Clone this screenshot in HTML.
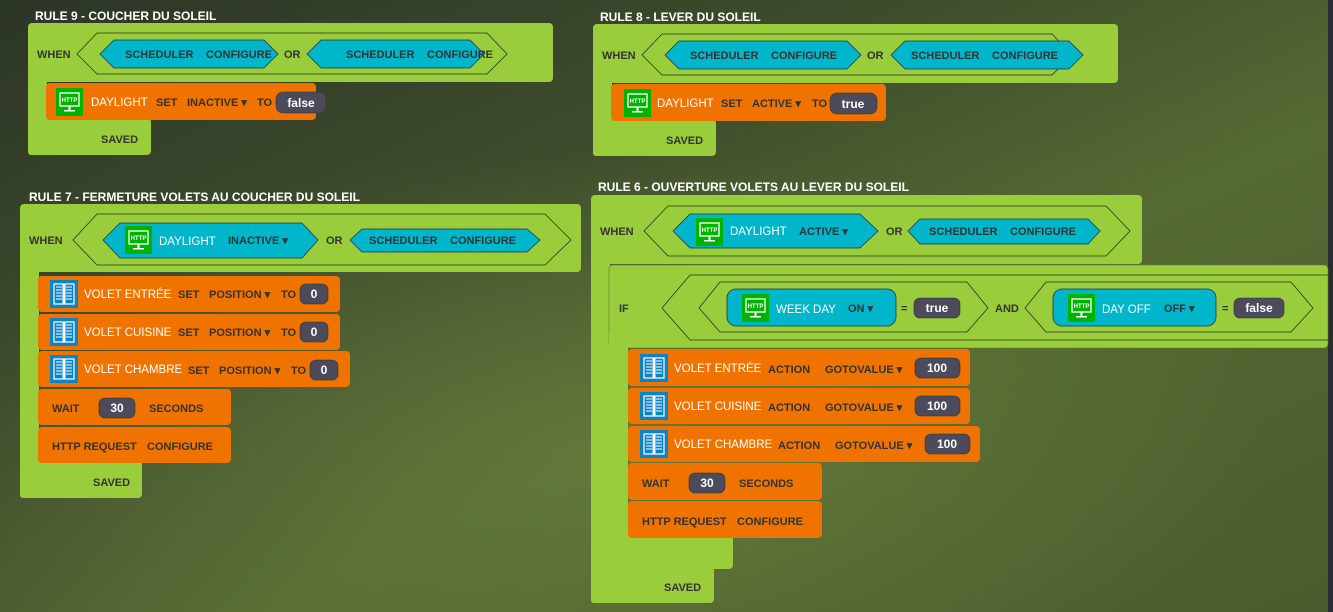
<!DOCTYPE html>
<html><head><meta charset="utf-8"><style>
html,body{margin:0;padding:0;width:1333px;height:612px;overflow:hidden}
body{background:#3d4a2c}
svg{display:block}
text{font-family:"Liberation Sans",sans-serif;font-size:11px;font-weight:bold;fill:#333}
.t{fill:#fff;font-size:12px}
.w{fill:#fff;font-weight:normal;font-size:11.5px}
.p{fill:#fff;font-size:12px;text-anchor:middle}
.g{fill:#9acd3c}
.o{fill:#f07300}
.c{fill:#00b6ca;stroke:#234;stroke-width:.8}
.h{fill:none;stroke:#2a3320;stroke-width:.8}
.pl{fill:#4b4b5c;stroke:#333;stroke-width:.6}
</style></head><body>
<svg width="1333" height="612" viewBox="0 0 1333 612" xmlns="http://www.w3.org/2000/svg">
<defs>
<linearGradient id="bg" x1="0" y1="0" x2="1" y2="1">
<stop offset="0" stop-color="#2c3526"/><stop offset="0.35" stop-color="#3f4d2c"/><stop offset="0.6" stop-color="#566a33"/><stop offset="1" stop-color="#4a5a2c"/>
</linearGradient>
<radialGradient id="rg" cx="0.45" cy="0.75" r="0.5"><stop offset="0" stop-color="#6b8040" stop-opacity=".6"/><stop offset="1" stop-color="#6b8040" stop-opacity="0"/></radialGradient>
<g id="http"><rect width="27" height="28" fill="#00b300"/><rect x="4" y="5" width="19" height="13" fill="none" stroke="#fff" stroke-width="1.3"/><rect x="12.5" y="18" width="2" height="4" fill="#fff"/><rect x="8" y="22" width="11" height="1.5" fill="#fff"/><text x="13.5" y="14" style="font-size:6px;fill:#fff;text-anchor:middle">HTTP</text></g>
<g id="shut"><rect width="28" height="28" fill="#0b84c6"/><rect x="4" y="4" width="20" height="20" fill="none" stroke="#fff" stroke-width="1.2"/><path d="M6 7h6M6 10h6M6 13h6M6 16h6M6 19h6M16 7h6M16 10h6M16 13h6M16 16h6M16 19h6" stroke="#fff" stroke-width="1"/><rect x="12.5" y="4" width="3" height="20" fill="#fff"/></g>
</defs>
<rect width="1333" height="612" fill="url(#bg)"/>
<rect width="1333" height="612" fill="url(#rg)"/>
<rect x="1328" y="0" width="5" height="612" fill="#2a2c33"/>

<!-- RULE 9 -->
<text class="t" x="35" y="20">RULE 9 - COUCHER DU SOLEIL</text>
<rect class="g" x="28" y="23" width="525" height="59" rx="4"/>
<rect class="g" x="28" y="60" width="19" height="95" rx="3"/>
<rect class="g" x="28" y="118" width="123" height="37" rx="4"/>
<text x="37" y="58">WHEN</text>
<polygon class="h" points="77,54 97,33 487,33 507,54 487,74 97,74"/>
<polygon class="c" points="100,54 114,40 264,40 278,54 264,68 114,68"/>
<text x="125" y="58">SCHEDULER</text><text x="206" y="58">CONFIGURE</text>
<text x="284" y="58">OR</text>
<polygon class="c" points="307,54 321,40 470,40 484,54 470,68 321,68"/>
<text x="346" y="58">SCHEDULER</text><text x="427" y="58">CONFIGURE</text>
<rect class="o" x="46" y="83" width="270" height="37" rx="4"/>
<use href="#http" x="56" y="88"/>
<text class="w" x="91" y="106">DAYLIGHT</text><text x="156" y="106">SET</text><text x="187" y="106">INACTIVE ▾</text><text x="257" y="106">TO</text>
<rect class="pl" x="276" y="92" width="50" height="21" rx="7"/><text class="p" x="301" y="107">false</text>
<text x="101" y="143">SAVED</text>

<!-- RULE 8 -->
<text class="t" x="600" y="21">RULE 8 - LEVER DU SOLEIL</text>
<rect class="g" x="593" y="24" width="525" height="59" rx="4"/>
<rect class="g" x="593" y="60" width="19" height="96" rx="3"/>
<rect class="g" x="593" y="119" width="123" height="37" rx="4"/>
<text x="602" y="59">WHEN</text>
<polygon class="h" points="642,55 662,34 1052,34 1072,55 1052,75 662,75"/>
<polygon class="c" points="665,55 679,41 847,41 861,55 847,69 679,69"/>
<text x="690" y="59">SCHEDULER</text><text x="771" y="59">CONFIGURE</text>
<text x="867" y="59">OR</text>
<polygon class="c" points="891,55 905,41 1069,41 1083,55 1069,69 905,69"/>
<text x="911" y="59">SCHEDULER</text><text x="992" y="59">CONFIGURE</text>
<rect class="o" x="611" y="84" width="275" height="37" rx="4"/>
<use href="#http" x="624" y="89"/>
<text class="w" x="657" y="107">DAYLIGHT</text><text x="721" y="107">SET</text><text x="752" y="107">ACTIVE ▾</text><text x="812" y="107">TO</text>
<rect class="pl" x="830" y="93" width="47" height="21" rx="7"/><text class="p" x="853" y="108">true</text>
<text x="666" y="144">SAVED</text>

<!-- RULE 7 -->
<text class="t" x="29" y="201">RULE 7 - FERMETURE VOLETS AU COUCHER DU SOLEIL</text>
<rect class="g" x="20" y="204" width="561" height="68" rx="4"/>
<rect class="g" x="20" y="250" width="19" height="248" rx="3"/>
<rect class="g" x="20" y="460" width="122" height="38" rx="4"/>
<text x="29" y="244">WHEN</text>
<polygon class="h" points="73,240 97,214 545,214 571,240 545,265 97,265"/>
<polygon class="c" points="103,240 120,223 302,223 318,240 302,258 120,258"/>
<use href="#http" x="125" y="226"/>
<text class="w" x="159" y="245">DAYLIGHT</text><text x="228" y="244">INACTIVE ▾</text>
<text x="326" y="244">OR</text>
<polygon class="c" points="350,240 362,229 527,229 540,240 527,252 362,252"/>
<text x="369" y="244">SCHEDULER</text><text x="450" y="244">CONFIGURE</text>

<rect class="o" x="38" y="276" width="302" height="36" rx="4"/>
<use href="#shut" x="50" y="280"/>
<text class="w" x="84" y="298">VOLET ENTRÉE</text><text x="178" y="298">SET</text><text x="209" y="298">POSITION ▾</text><text x="281" y="298">TO</text>
<rect class="pl" x="300" y="284" width="28" height="20" rx="6"/><text class="p" x="314" y="298">0</text>

<rect class="o" x="38" y="314" width="302" height="36" rx="4"/>
<use href="#shut" x="50" y="318"/>
<text class="w" x="84" y="336">VOLET CUISINE</text><text x="178" y="336">SET</text><text x="209" y="336">POSITION ▾</text><text x="281" y="336">TO</text>
<rect class="pl" x="300" y="322" width="28" height="20" rx="6"/><text class="p" x="314" y="336">0</text>

<rect class="o" x="38" y="351" width="312" height="36" rx="4"/>
<use href="#shut" x="50" y="355"/>
<text class="w" x="84" y="373">VOLET CHAMBRE</text><text x="188" y="374">SET</text><text x="219" y="374">POSITION ▾</text><text x="291" y="374">TO</text>
<rect class="pl" x="310" y="360" width="28" height="20" rx="6"/><text class="p" x="324" y="374">0</text>

<rect class="o" x="38" y="389" width="193" height="36" rx="4"/>
<text x="52" y="412">WAIT</text>
<rect class="pl" x="99" y="398" width="36" height="20" rx="6"/><text class="p" x="117" y="412">30</text>
<text x="149" y="412">SECONDS</text>
<rect class="o" x="38" y="427" width="193" height="36" rx="4"/>
<text x="52" y="450">HTTP REQUEST</text><text x="147" y="450">CONFIGURE</text>
<text x="93" y="486">SAVED</text>

<!-- RULE 6 -->
<text class="t" x="598" y="191">RULE 6 - OUVERTURE VOLETS AU LEVER DU SOLEIL</text>
<rect class="g" x="591" y="195" width="551" height="69" rx="4"/>
<rect class="g" x="591" y="240" width="19" height="363" rx="3"/>
<rect class="g" x="591" y="566" width="123" height="37" rx="4"/>
<text x="600" y="235">WHEN</text>
<polygon class="h" points="644,231 668,206 1106,206 1130,231 1106,256 668,256"/>
<polygon class="c" points="673,231 690,214 860,214 878,231 860,248 690,248"/>
<use href="#http" x="696" y="218"/>
<text class="w" x="730" y="235">DAYLIGHT</text><text x="799" y="235">ACTIVE ▾</text>
<text x="886" y="235">OR</text>
<polygon class="c" points="908,231 920,219 1088,219 1100,231 1088,244 920,244"/>
<text x="929" y="235">SCHEDULER</text><text x="1010" y="235">CONFIGURE</text>

<rect class="g" x="609" y="265" width="719" height="83" rx="4" stroke="#5a7a20" stroke-width=".6"/>
<rect class="g" x="609" y="330" width="19" height="239" rx="3"/>
<rect class="g" x="609" y="535" width="124" height="34" rx="4"/>
<text x="619" y="312">IF</text>
<polygon class="h" points="662,308 690,275 1330,275 1340,308 1330,340 690,340"/>
<polygon class="h" points="699,308 720,282 967,282 988,308 967,332 720,332"/>
<rect x="727" y="289" width="169" height="37" rx="9" fill="#00b6ca" stroke="#234" stroke-width=".8"/>
<use href="#http" x="742" y="294"/>
<text class="w" x="776" y="313">WEEK DAY</text><text x="848" y="312">ON ▾</text>
<text x="901" y="312">=</text>
<rect class="pl" x="914" y="298" width="46" height="20" rx="6"/><text class="p" x="937" y="312">true</text>
<text x="995" y="312">AND</text>
<polygon class="h" points="1025,308 1046,282 1291,282 1313,308 1291,332 1046,332"/>
<rect x="1053" y="289" width="163" height="37" rx="9" fill="#00b6ca" stroke="#234" stroke-width=".8"/>
<use href="#http" x="1068" y="294"/>
<text class="w" x="1102" y="313">DAY OFF</text><text x="1164" y="312">OFF ▾</text>
<text x="1222" y="312">=</text>
<rect class="pl" x="1234" y="298" width="50" height="20" rx="6"/><text class="p" x="1259" y="312">false</text>

<rect class="o" x="628" y="349" width="342" height="37" rx="4"/>
<use href="#shut" x="640" y="354"/>
<text class="w" x="674" y="372">VOLET ENTRÉE</text><text x="768" y="373">ACTION</text><text x="825" y="373">GOTOVALUE ▾</text>
<rect class="pl" x="915" y="358" width="45" height="20" rx="6"/><text class="p" x="937" y="372">100</text>

<rect class="o" x="628" y="388" width="342" height="36" rx="4"/>
<use href="#shut" x="640" y="392"/>
<text class="w" x="674" y="410">VOLET CUISINE</text><text x="768" y="411">ACTION</text><text x="825" y="411">GOTOVALUE ▾</text>
<rect class="pl" x="915" y="396" width="45" height="20" rx="6"/><text class="p" x="937" y="410">100</text>

<rect class="o" x="628" y="426" width="352" height="36" rx="4"/>
<use href="#shut" x="640" y="430"/>
<text class="w" x="674" y="448">VOLET CHAMBRE</text><text x="778" y="449">ACTION</text><text x="835" y="449">GOTOVALUE ▾</text>
<rect class="pl" x="925" y="434" width="45" height="20" rx="6"/><text class="p" x="947" y="448">100</text>

<rect class="o" x="628" y="463" width="194" height="37" rx="4"/>
<text x="642" y="487">WAIT</text>
<rect class="pl" x="689" y="473" width="36" height="20" rx="6"/><text class="p" x="707" y="487">30</text>
<text x="739" y="487">SECONDS</text>
<rect class="o" x="628" y="501" width="194" height="37" rx="4"/>
<text x="642" y="525">HTTP REQUEST</text><text x="737" y="525">CONFIGURE</text>
<text x="664" y="591">SAVED</text>
</svg>
</body></html>
